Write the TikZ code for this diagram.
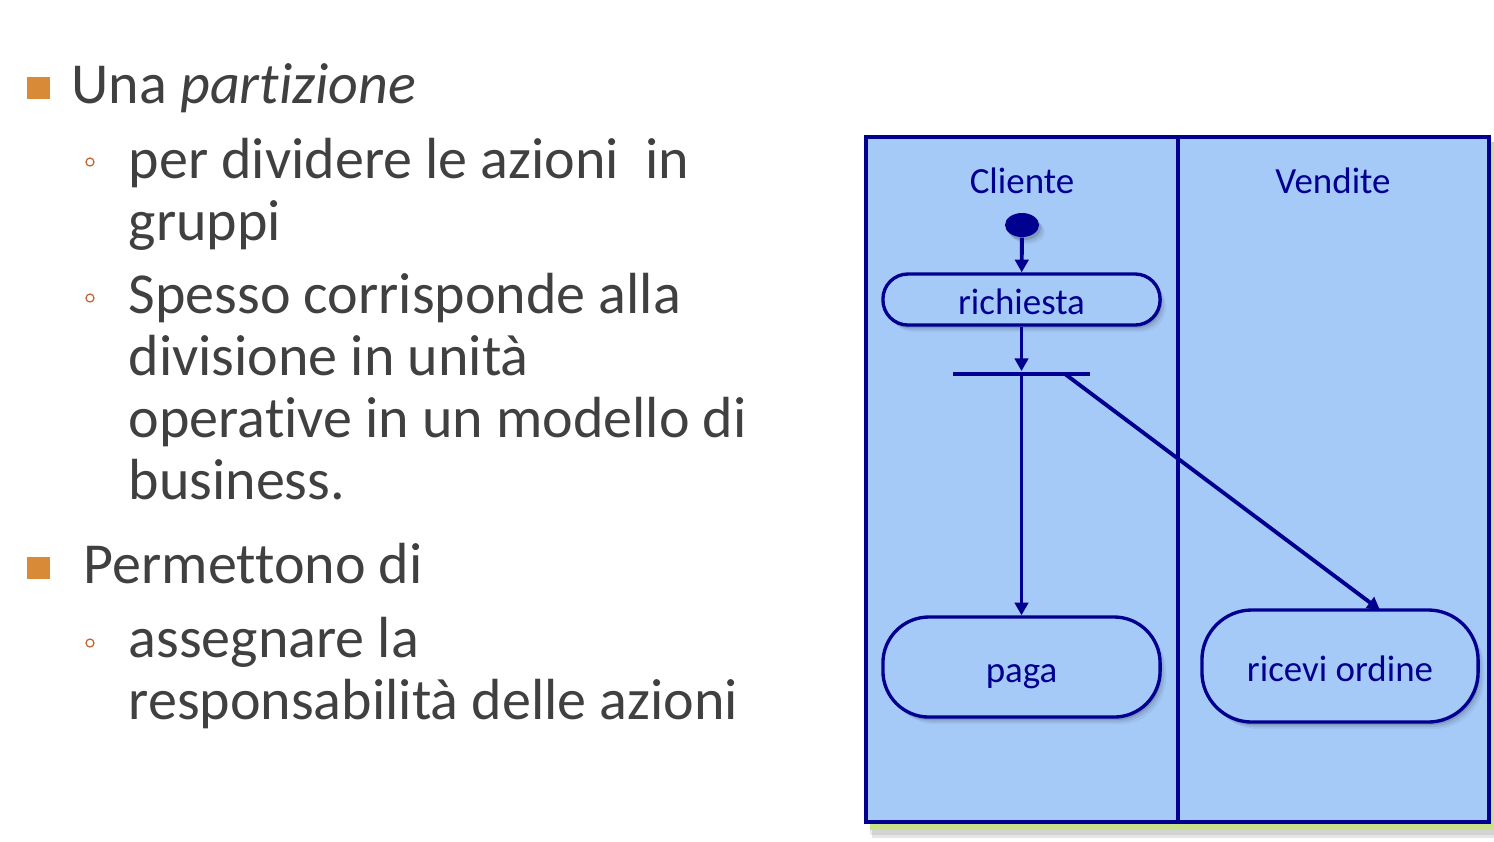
\documentclass[tikz,border=0pt]{standalone}
\usepackage{fontspec}
\setmainfont[Ligatures=NoCommon, RawFeature={-liga;-clig}]{Carlito}
\usetikzlibrary{arrows.meta,shapes.geometric,shadows}
\definecolor{bodytext}{RGB}{64,64,64}
\definecolor{bulletorange}{RGB}{217,138,54}
\definecolor{subbullet}{RGB}{196,98,45}
\definecolor{lanefill}{RGB}{166,202,248}
\definecolor{navy}{RGB}{0,0,144}
\definecolor{laneshade}{RGB}{200,226,140}

\begin{document}
\begin{tikzpicture}[x=0.01cm,y=-0.01cm,
  slidetext/.style={anchor=base west, inner sep=0, text=bodytext,
    font=\fontsize{16.5}{17.6}\selectfont},
  mainbullet/.style={fill=bulletorange},
  minorbullet/.style={draw=subbullet, line width=0.35pt},
  softshadow/.style={
    general shadow={shadow xshift=0.02cm, shadow yshift=-0.03cm, fill=black, opacity=0.12},
    general shadow={shadow xshift=0.04cm, shadow yshift=-0.05cm, fill=black, opacity=0.08},
    general shadow={shadow xshift=0.06cm, shadow yshift=-0.07cm, fill=black, opacity=0.05}},
  lanebox/.style={draw=navy, line width=1pt, fill=lanefill},
  lanetitle/.style={text=navy, inner sep=0, font=\fontsize{10.5}{12}\selectfont},
  action/.style={draw=navy, line width=0.95pt, fill=lanefill, text=navy, inner sep=0,
    text height=0.3cm, text depth=0cm,
    font=\fontsize{10.5}{12}\selectfont, softshadow},
  initnode/.style={ellipse, fill=navy, minimum width=0.34cm, minimum height=0.24cm,
    inner sep=0, softshadow},
  forkbar/.style={rectangle, fill=navy, minimum width=1.37cm, minimum height=0.045cm,
    inner sep=0},
  flow/.style={draw=navy, line width=1.1pt, -{Triangle[length=3.6pt,width=3.8pt]}}
]
\useasboundingbox (0,0) rectangle (1494,841);

% ---- bullet list ----
\fill[mainbullet] (27,77) rectangle (50,99);
\node[slidetext] (l1) at (71,103) {Una \textit{partizione}};
\draw[minorbullet] (90,162) circle (0.04cm);
\node[slidetext] (l2) at (128,178) {per dividere le azioni\ \ in};
\node[slidetext] (l3) at (128,240) {gruppi};
\draw[minorbullet] (90,298) circle (0.04cm);
\node[slidetext] (l4) at (128,313) {Spesso corrisponde alla};
\node[slidetext] (l5) at (128,375) {divisione in unità};
\node[slidetext] (l6) at (128,437) {operative in un modello di};
\node[slidetext] (l7) at (128,499) {business.};
\fill[mainbullet] (27,557) rectangle (50,579);
\node[slidetext] (l8) at (83,583) {Permettono di};
\draw[minorbullet] (90,643) circle (0.04cm);
\node[slidetext] (l9) at (128,657) {assegnare la};
\node[slidetext] (l10) at (128,719) {responsabilità delle azioni};

% ---- swimlanes ----
\fill[black, opacity=0.10] (872,146) rectangle (1497,838);
\fill[black, opacity=0.08] (870,144) rectangle (1496,835);
\fill[laneshade] (870,142) rectangle (1495,830);
\draw[lanebox] (866,137) rectangle (1489,822);
\draw[navy, line width=1pt] (1178,137) -- (1178,822);
\node[lanetitle] (cliente) at (1022,181) {Cliente};
\node[lanetitle] (vendite) at (1333,181) {Vendite};

% ---- activity nodes ----
\node[initnode] (start) at (1022,225) {};
\node[action, rounded corners=0.25cm, minimum width=2.77cm, minimum height=0.51cm]
  (richiesta) at (1021.5,299.5) {richiesta};
\node[forkbar] (fork) at (1021.5,374) {};
\node[action, rounded corners=0.46cm, minimum width=2.77cm, minimum height=1.0cm]
  (paga) at (1021.5,667) {paga};
\node[action, rounded corners=0.5cm, minimum width=2.76cm, minimum height=1.12cm]
  (ricevi) at (1340,666) {ricevi ordine};

\coordinate (forkR) at (1065,374);
\coordinate (riceviIn) at (1380,610);

% ---- flows ----
\draw[flow] (start) -- (richiesta);
\draw[flow] (richiesta) -- (fork);
\draw[flow] (fork.center) -- (paga);
\draw[flow] (forkR) -- (riceviIn);
\end{tikzpicture}
\end{document}
